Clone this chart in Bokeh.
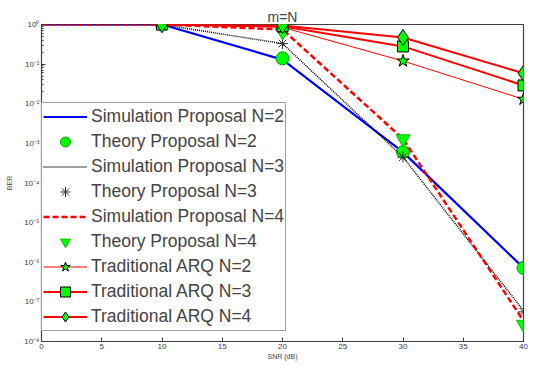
from bokeh.plotting import figure
from bokeh.models import (Legend, LegendItem, CustomJSTickFormatter, FixedTicker, Range1d)
from bokeh.embed import file_html
from bokeh.resources import INLINE

snr_sim = [0, 10, 20, 30, 40]
snr_pts = [10, 20, 30, 40]

sim_n2 = [1.0, 1.0, 0.13, 6.0e-4, 7.2e-7]
th_n2 = [1.0, 0.14, 6.0e-4, 7.2e-7]
sim_n3 = [1.0, 1.0, 0.33, 4.5e-4, 6.0e-8]
th_n3 = [1.0, 0.33, 4.5e-4, 5.6e-8]
sim_n4 = [1.0, 1.0, 0.75, 1.3e-3, 3.3e-8]
th_n4 = [1.0, 0.65, 1.3e-3, 2.7e-8]
arq_n2 = [1.0, 0.85, 0.12, 0.013]
arq_n3 = [1.0, 0.9, 0.28, 0.029]
arq_n4 = [1.0, 0.95, 0.47, 0.059]

x_ticks = [0, 5, 10, 15, 20, 25, 30, 35, 40]
y_ticks = [1e-8, 1e-7, 1e-6, 1e-5, 1e-4, 1e-3, 1e-2, 1e-1, 1]
y_minor = [m * 10.0 ** e for e in range(-8, 0) for m in range(2, 10)]

FONT = "Liberation Sans"

p = figure(width=530, height=362, y_axis_type="log", output_backend="svg",
           toolbar_location=None, x_range=Range1d(0, 40), y_range=Range1d(1e-8, 1),
           min_border_left=41, min_border_right=7, min_border_top=24, min_border_bottom=19,
           title="m=N")
p.title.align = "center"
p.title.text_font = FONT
p.title.text_font_size = "14px"
p.title.text_font_style = "normal"
p.title.standoff = 0
p.title.offset = 0
p.grid.visible = False
p.outline_line_color = "#404040"
p.outline_line_width = 1.2

sup = CustomJSTickFormatter(code="""
const s = {'-':'\u207b','0':'\u2070','1':'\u00b9','2':'\u00b2','3':'\u00b3','4':'\u2074',
           '5':'\u2075','6':'\u2076','7':'\u2077','8':'\u2078','9':'\u2079'};
const e = Math.round(Math.log10(tick));
return '10' + String(e).split('').map(c => s[c]).join('');
""")

for ax in p.xaxis:
    ax.ticker = FixedTicker(ticks=x_ticks)
    ax.axis_label = "SNR (dB)"
for ax in p.yaxis:
    ax.ticker = FixedTicker(ticks=y_ticks, minor_ticks=y_minor)
    ax.formatter = sup
    ax.axis_label = "BER"

for ax in list(p.xaxis) + list(p.yaxis):
    ax.major_tick_in = 4
    ax.major_tick_out = 0
    ax.minor_tick_in = 2
    ax.minor_tick_out = 0
    ax.axis_line_color = "#404040"
    ax.major_tick_line_color = "#404040"
    ax.minor_tick_line_color = "#404040"
    ax.major_label_text_font = FONT
    ax.major_label_text_font_size = "8px"
    ax.major_label_text_color = "#404040"
    ax.major_label_standoff = 2
    ax.axis_label_text_font = FONT
    ax.axis_label_text_font_size = "7px"
    ax.axis_label_text_font_style = "normal"
    ax.axis_label_standoff = 1
p.xaxis.minor_tick_line_color = None
p.yaxis.axis_label_standoff = 8

GREEN = "#00ff00"

r1 = p.line(snr_sim, sim_n2, line_color="#0000ff", line_width=2.2)
r2 = p.scatter(snr_pts, th_n2, marker="circle", size=13, fill_color=GREEN, line_color="#00a000")
r3 = p.line(snr_sim, sim_n3, line_color="#000000", line_width=1.5, line_dash="1 1")
r4 = p.scatter(snr_pts, th_n3, marker="asterisk", size=11, line_color="#333333", line_width=1)
r5 = p.line(snr_sim, sim_n4, line_color="#ff0000", line_width=2.5, line_dash="6 3")
r6 = p.scatter(snr_pts, th_n4, marker="inverted_triangle", size=14, fill_color=GREEN,
               line_color="#00c000")
r7l = p.line(snr_pts, arq_n2, line_color="#ff0000", line_width=1)
r7m = p.scatter(snr_pts, arq_n2, marker="star", size=13, fill_color=GREEN, line_color="black")
r8l = p.line(snr_pts, arq_n3, line_color="#ff0000", line_width=2)
r8m = p.scatter(snr_pts, arq_n3, marker="square", size=11, fill_color=GREEN, line_color="black")
r9l = p.line(snr_pts, arq_n4, line_color="#ff0000", line_width=2)
r9m = p.scatter(snr_pts, arq_n4, marker="diamond", size=16, fill_color=GREEN, line_color="black")

legend = Legend(items=[
    LegendItem(label="Simulation Proposal N=2", renderers=[r1]),
    LegendItem(label="Theory Proposal N=2", renderers=[r2]),
    LegendItem(label="Simulation Proposal N=3", renderers=[r3]),
    LegendItem(label="Theory Proposal N=3", renderers=[r4]),
    LegendItem(label="Simulation Proposal N=4", renderers=[r5]),
    LegendItem(label="Theory Proposal N=4", renderers=[r6]),
    LegendItem(label="Traditional ARQ N=2", renderers=[r7l, r7m]),
    LegendItem(label="Traditional ARQ N=3", renderers=[r8l, r8m]),
    LegendItem(label="Traditional ARQ N=4", renderers=[r9l, r9m]),
], location=(0, 10))
legend.label_text_font = FONT
legend.label_text_font_size = "17.5px"
legend.label_height = 25
legend.glyph_height = 25
legend.glyph_width = 44
legend.label_standoff = 4
legend.spacing = 0
legend.padding = 1
legend.margin = 0
legend.border_line_color = "#404040"
legend.border_line_width = 1.2
legend.background_fill_alpha = 1
p.add_layout(legend, "center")

open("out.html", "w").write(file_html(p, INLINE))
